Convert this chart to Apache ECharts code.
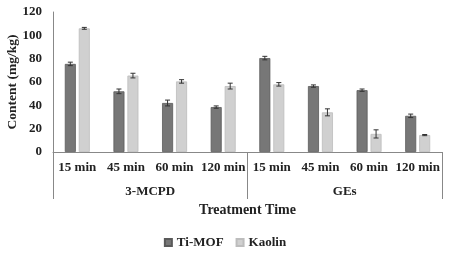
<!DOCTYPE html>
<html>
<head>
<meta charset="utf-8">
<script src="https://cdn.jsdelivr.net/npm/echarts@6/dist/echarts.min.js"></script>
<style>html,body{margin:0;padding:0;background:#fff}#main{width:450px;height:253px}</style>
</head>
<body>
<div id="main"></div>
<script>
var times = ['15 min', '45 min', '60 min', '120 min', '15 min', '45 min', '60 min', '120 min'];
var groups = ['3-MCPD', 'GEs'];
var tiMof = [75.5, 52, 42, 38.5, 80.5, 56.5, 53, 31];
var tiMofErr = [1.5, 2, 2.5, 1, 1.5, 1, 1, 1.5];
var kaolin = [106, 65.5, 60.5, 56.5, 58, 34, 15.5, 14.5];
var kaolinErr = [0.8, 2, 1.5, 2.5, 1.5, 3, 3.5, 0.5];
var yTicks = [0, 20, 40, 60, 80, 100, 120];

var font = 'Liberation Serif';
var chart = echarts.init(document.getElementById('main'));

function errSeries(vals, errs, shift) {
    return {
        type: 'custom',
        z: 10,
        data: vals.map(function (v, i) { return [i, v - errs[i], v + errs[i]]; }),
        renderItem: function (params, api) {
            var lo = api.coord([api.value(0), api.value(1)]);
            var hi = api.coord([api.value(0), api.value(2)]);
            var x = lo[0] + shift;
            var c = 2.5;
            var st = { stroke: '#333', lineWidth: 1 };
            return {
                type: 'group',
                children: [
                    { type: 'line', shape: { x1: x, y1: lo[1], x2: x, y2: hi[1] }, style: st },
                    { type: 'line', shape: { x1: x - c, y1: lo[1], x2: x + c, y2: lo[1] }, style: st },
                    { type: 'line', shape: { x1: x - c, y1: hi[1], x2: x + c, y2: hi[1] }, style: st }
                ]
            };
        }
    };
}

var option = {
    animation: false,
    textStyle: { fontFamily: font },
    grid: { left: 53, right: 8, top: 12, bottom: 101, containLabel: false, outerBoundsMode: 'none' },
    legend: {
        bottom: -1,
        left: 'center',
        itemWidth: 7,
        itemHeight: 7,
        itemGap: 12,
        icon: 'rect',
        textStyle: { fontFamily: font, fontWeight: 'bold', fontSize: 13, color: '#222' },
        data: ['Ti-MOF', 'Kaolin']
    },
    xAxis: [{
        type: 'category',
        data: times,
        axisLine: { lineStyle: { color: '#888' } },
        axisTick: { show: false },
        axisLabel: { interval: 0, margin: 9, fontFamily: font, fontWeight: 'bold', fontSize: 13, color: '#222' }
    }, {
        type: 'category',
        data: groups,
        position: 'bottom',
        axisLine: { show: false },
        axisTick: { show: true, length: 47, lineStyle: { color: '#888' } },
        axisLabel: { margin: 33, fontFamily: font, fontWeight: 'bold', fontSize: 13, color: '#222' },
        name: 'Treatment Time',
        nameLocation: 'middle',
        nameGap: 51,
        nameTextStyle: { fontFamily: font, fontWeight: 'bold', fontSize: 14, color: '#222' }
    }],
    yAxis: {
        type: 'value',
        min: 0,
        max: yTicks[yTicks.length - 1],
        interval: 20,
        splitLine: { show: false },
        axisLine: { show: true, lineStyle: { color: '#888' } },
        axisTick: { show: false },
        axisLabel: { margin: 11, fontFamily: font, fontWeight: 'bold', fontSize: 13, color: '#222' },
        name: 'Content (mg/kg)',
        nameLocation: 'middle',
        nameGap: 33,
        nameMoveOverlap: false,
        nameTextStyle: { fontFamily: font, fontWeight: 'bold', fontSize: 13.5, color: '#222' }
    },
    series: [{
        name: 'Ti-MOF',
        type: 'bar',
        data: tiMof,
        barWidth: 11,
        barGap: '27%',
        itemStyle: { color: '#777', borderColor: '#5a5a5a', borderWidth: 0.8 }
    }, {
        name: 'Kaolin',
        type: 'bar',
        data: kaolin,
        barWidth: 11,
        itemStyle: { color: '#d0d0d0', borderColor: '#bdbdbd', borderWidth: 0.8 }
    },
    errSeries(tiMof, tiMofErr, -7),
    errSeries(kaolin, kaolinErr, 7)]
};
chart.setOption(option);
</script>
</body>
</html>
